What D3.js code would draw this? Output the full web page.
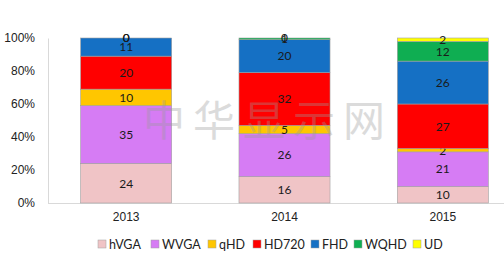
<!DOCTYPE html>
<html>
<head>
<meta charset="utf-8">
<script src="https://cdn.jsdelivr.net/npm/d3@7"></script>
<style>
  body { margin: 0; background: #fff; }
  svg { display: block; font-family: Lato, "Open Sans", sans-serif; }
</style>
</head>
<body>
<div id="chart"></div>
<script>
// Data
const years = ['2013', '2014', '2015'];
const series = ['hVGA', 'WVGA', 'qHD', 'HD720', 'FHD', 'WQHD', 'UD'];
const hVGA = [24, 16, 10];
const WVGA = [35, 26, 21];
const qHD = [10, 5, 2];
const HD720 = [20, 32, 27];
const FHD = [11, 20, 26];
const WQHD = [0, 1, 12];
const UD = [0, 0, 2];
const yTicks = [0, 20, 40, 60, 80, 100];

const colors = ['#f0c4c6', '#d67cf4', '#ffc600', '#ff0000', '#1570c4', '#0fae52', '#ffff00'];

const width = 504;
const height = 267;

const values = { hVGA, WVGA, qHD, HD720, FHD, WQHD, UD };
const rows = years.map((y, i) => {
  const row = { year: y };
  series.forEach((s) => (row[s] = values[s][i]));
  return row;
});

const stacked = d3.stack().keys(series).offset(d3.stackOffsetExpand)(rows);

const svg = d3
  .select('#chart')
  .append('svg')
  .attr('width', width)
  .attr('height', height);

const x = d3.scaleBand().domain(years).range([47, 522]).paddingInner(0.425).paddingOuter(0.2125);
const y = d3.scaleLinear().domain([0, 1]).range([203, 38]);
const color = d3.scaleOrdinal().domain(series).range(colors);

// y axis
const yAxis = svg
  .append('g')
  .attr('transform', 'translate(48,0)')
  .call(
    d3
      .axisLeft(y)
      .tickValues(yTicks.map((t) => t / 100))
      .tickSize(0)
      .tickPadding(13)
      .tickFormat(d3.format('.0%'))
  );
yAxis.select('.domain').attr('stroke', '#d9d9d9');
yAxis.selectAll('text').style('font-size', '12px').attr('fill', '#222');

// x axis
const xAxis = svg
  .append('g')
  .attr('transform', 'translate(0,203)')
  .call(d3.axisBottom(x).tickSize(0).tickPadding(9));
xAxis.select('.domain').attr('stroke', '#d9d9d9').attr('d', 'M48,0.5H504');
xAxis.selectAll('text').style('font-size', '12px').attr('fill', '#222');

// bars
const layer = svg
  .selectAll('g.layer')
  .data(stacked)
  .enter()
  .append('g')
  .attr('class', 'layer')
  .attr('fill', (d) => color(d.key));

layer
  .selectAll('rect')
  .data((d) => d)
  .enter()
  .append('rect')
  .attr('x', (d) => x(d.data.year))
  .attr('y', (d) => y(d[1]))
  .attr('width', x.bandwidth())
  .attr('height', (d) => y(d[0]) - y(d[1]))
  .attr('stroke', '#a0a0a0')
  .attr('stroke-width', 0.6);

// value labels
layer
  .selectAll('text')
  .data((d) => d.map((v) => ({ v, key: d.key })))
  .enter()
  .append('text')
  .attr('x', (d) => x(d.v.data.year) + x.bandwidth() / 2)
  .attr('y', (d) => (y(d.v[0]) + y(d.v[1])) / 2)
  .attr('dy', '0.36em')
  .attr('text-anchor', 'middle')
  .style('font-size', '12px')
  .attr('fill', '#1a1a1a')
  .text((d) => d.v.data[d.key]);

// watermark (drawn over the bars, faint)
svg
  .append('text')
  .attr('x', 268)
  .attr('y', 136)
  .attr('text-anchor', 'middle')
  .style('font-family', '"Noto Sans CJK SC", sans-serif')
  .style('font-size', '42px')
  .style('letter-spacing', '8px')
  .attr('fill', '#9a9a9a')
  .attr('opacity', 0.35)
  .text('中华显示网');

// legend
const legendX = [98, 151, 208, 253, 311, 354, 413];
const legend = svg
  .selectAll('g.legend')
  .data(series)
  .enter()
  .append('g')
  .attr('class', 'legend')
  .attr('transform', (d, i) => `translate(${legendX[i]},244)`);

legend
  .append('rect')
  .attr('x', 0)
  .attr('y', -4)
  .attr('width', 8)
  .attr('height', 8)
  .attr('fill', (d) => color(d))
  .attr('stroke', '#a0a0a0')
  .attr('stroke-width', 0.5);

legend
  .append('text')
  .attr('x', 11)
  .attr('y', 0)
  .attr('dy', '0.36em')
  .style('font-size', '12.5px')
  .attr('fill', '#222')
  .text((d) => d);
</script>
</body>
</html>
